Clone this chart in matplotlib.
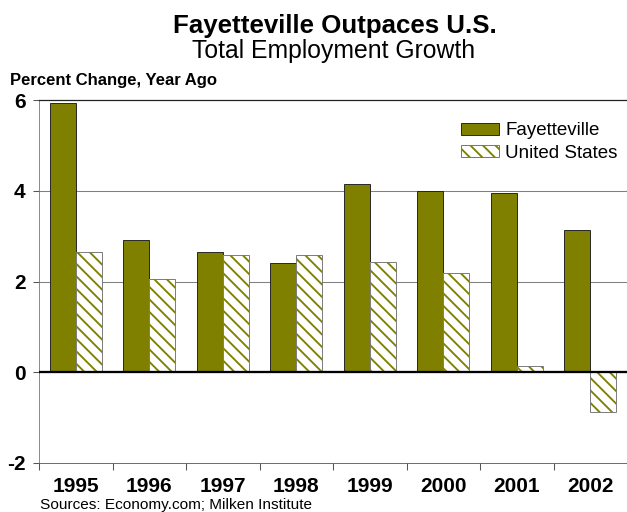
import matplotlib
matplotlib.use("Agg")
import matplotlib.pyplot as plt
import numpy as np
from matplotlib.patches import Patch

plt.rcParams['font.family'] = ['Liberation Sans', 'DejaVu Sans']
plt.rcParams['hatch.linewidth'] = 1.8

years = ['1995', '1996', '1997', '1998', '1999', '2000', '2001', '2002']
fayetteville = [5.93, 2.91, 2.65, 2.41, 4.14, 3.99, 3.96, 3.13]
united_states = [2.66, 2.05, 2.58, 2.58, 2.42, 2.18, 0.14, -0.87]
yticks = [-2, 0, 2, 4, 6]

OLIVE = '#808000'
DPI = 75
fig = plt.figure(figsize=(627 / DPI, 512 / DPI), dpi=DPI)
ax = fig.add_axes([39 / 627, 1 - 463 / 512, 1 - 39 / 627, (463 - 100) / 512])

x = np.arange(len(years))
w = 0.353
ax.bar(x - w / 2, fayetteville, w, color=OLIVE, edgecolor='#222222', linewidth=0.9, zorder=3)
ax.bar(x + w / 2, united_states, w, color='white', edgecolor=OLIVE, hatch='\\\\', linewidth=0, zorder=3)
ax.bar(x + w / 2, united_states, w, fill=False, edgecolor='#777777', linewidth=0.9, zorder=4)

ax.set_xlim(-0.5, len(years) - 0.5)
ax.set_ylim(-2, 6)
ax.set_yticks(yticks)
ax.set_yticklabels([str(v) for v in yticks], fontsize=20, fontweight='bold')
for v in [2, 4]:
    ax.axhline(v, color='#808080', linewidth=1.0, zorder=1)
ax.axhline(0, color='black', linewidth=2.2, zorder=5)

ax.set_xticks(x)
ax.set_xticklabels(years, fontsize=20, fontweight='bold')
ax.set_xticks(np.arange(len(years) + 1) - 0.5, minor=True)
ax.tick_params(axis='x', which='major', length=0, pad=13)
ax.tick_params(axis='x', which='minor', length=7, color='#555555', width=1)
ax.tick_params(axis='y', length=6, color='#555555', width=1, pad=7)

ax.spines['right'].set_visible(False)
ax.spines['top'].set_color('#222222')
ax.spines['top'].set_linewidth(1.2)
ax.spines['left'].set_color('#777777')
ax.spines['bottom'].set_color('#555555')
ax.spines['bottom'].set_linewidth(0.8)

handles = [Patch(facecolor=OLIVE, edgecolor='#222222', linewidth=0.9, label='Fayetteville'),
           Patch(facecolor='white', edgecolor=OLIVE, hatch='\\\\', linewidth=0.9, label='United States')]
ax.legend(handles=handles, loc='upper right', bbox_to_anchor=(1.013, 0.985), frameon=False,
          fontsize=18, handlelength=2.0, handleheight=0.6, handletextpad=0.35, labelspacing=0.3)

fig.text(335 / 627, 1 - 26 / 512, 'Fayetteville Outpaces U.S.', ha='center', va='center',
         fontsize=24.9, fontweight='bold')
fig.text(334 / 627, 1 - 51 / 512, 'Total Employment Growth', ha='center', va='center', fontsize=23.8)
fig.text(10 / 627, 1 - 80 / 512, 'Percent Change, Year Ago', ha='left', va='center',
         fontsize=16, fontweight='bold')
fig.text(40 / 627, 1 - 505 / 512, 'Sources: Economy.com; Milken Institute', ha='left', va='center',
         fontsize=14.8)

fig.savefig('out.png', dpi=DPI)
